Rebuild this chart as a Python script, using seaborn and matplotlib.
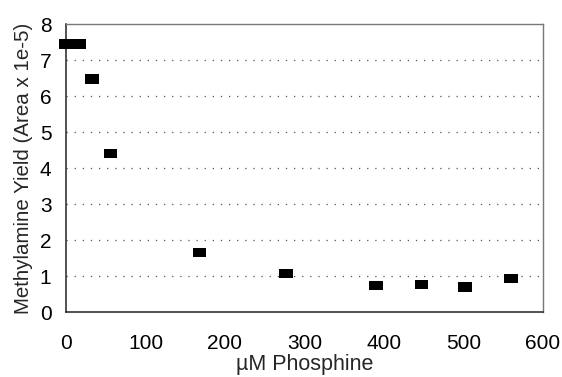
import matplotlib
matplotlib.use("Agg")
import matplotlib.pyplot as plt
import seaborn as sns
import pandas as pd
from matplotlib.ticker import MultipleLocator

phosphine_uM = [0, 8, 17, 33, 56, 168, 277, 390, 447, 502, 560]
yield_area = [7.45, 7.45, 7.45, 6.47, 4.40, 1.66, 1.07, 0.73, 0.76, 0.69, 0.93]
x_ticks = [0, 100, 200, 300, 400, 500, 600]
y_ticks = [0, 1, 2, 3, 4, 5, 6, 7, 8]

df = pd.DataFrame({"x": phosphine_uM, "y": yield_area})

sns.set_style("white")
plt.rcParams['font.family'] = ['Liberation Sans', 'DejaVu Sans']

fig = plt.figure(figsize=(5.62, 3.77), dpi=100)
ax = fig.add_axes([0.1174, 0.1724, 0.8488, 0.7639])

rect = [(-1.4, -0.97), (1.4, -0.97), (1.4, 0.97), (-1.4, 0.97), (-1.4, -0.97)]
sns.scatterplot(data=df, x="x", y="y", ax=ax, marker=rect, s=95,
                color="black", edgecolor="none", linewidth=0, clip_on=False, zorder=5)

ax.set_xlim(0, 600)
ax.set_ylim(0, 8)
ax.set_xticks(x_ticks)
ax.set_yticks(y_ticks)
ax.xaxis.set_minor_locator(MultipleLocator(50))
ax.yaxis.set_minor_locator(MultipleLocator(0.5))
ax.tick_params(axis="both", which="both", direction="inout", length=5, width=1,
               color="#222222", labelsize=15, labelcolor="black")
ax.tick_params(axis="y", which="major", pad=8)
ax.tick_params(axis="x", which="major", pad=13)

for yv in y_ticks[1:-1]:
    ax.axhline(yv, color="#555555", linestyle=(0, (1, 5.5)), linewidth=0.9, zorder=1)

for side in ["left", "bottom"]:
    ax.spines[side].set_color("#222222")
    ax.spines[side].set_linewidth(1.1)
for side in ["top", "right"]:
    ax.spines[side].set_color("#777777")
    ax.spines[side].set_linewidth(1.0)

ax.set_xlabel("µM Phosphine", fontsize=15.5, labelpad=1)
ax.set_ylabel("Methylamine Yield (Area x 1e-5)", fontsize=14.8, labelpad=5)

fig.savefig("out.png", dpi=100)
